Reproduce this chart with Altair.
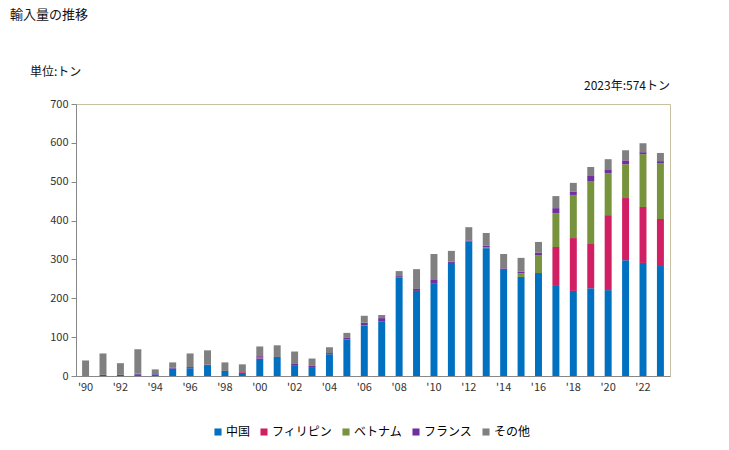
import altair as alt
import pandas as pd

years = list(range(1990, 2024))
china = [0, 0, 0, 3, 4, 19, 20, 26, 13, 8, 45, 49, 28, 23, 56, 94, 129, 141, 253, 219, 239, 291, 346, 329, 273, 255, 265, 234, 219, 226, 221, 298, 291, 283]
philippines = [0, 0, 0, 0, 0, 0, 0, 0, 0, 2, 3, 0, 0, 0, 0, 0, 1, 0, 0, 0, 0, 0, 0, 0, 0, 0, 0, 98, 136, 114, 193, 160, 144, 121]
vietnam = [0, 0, 0, 0, 0, 0, 0, 0, 0, 0, 0, 0, 0, 0, 0, 0, 0, 0, 0, 0, 0, 0, 0, 2, 0, 9, 45, 87, 111, 162, 108, 87, 136, 144]
france = [0, 3, 3, 3, 3, 2, 3, 3, 0, 0, 3, 0, 3, 3, 3, 4, 7, 8, 4, 5, 8, 3, 3, 5, 4, 5, 7, 13, 8, 13, 10, 10, 5, 5]
other = [40, 55, 30, 63, 10, 14, 35, 37, 22, 20, 25, 30, 32, 19, 15, 13, 18, 8, 13, 51, 67, 28, 34, 32, 37, 35, 28, 31, 23, 23, 26, 26, 23, 21]

series = ["中国", "フィリピン", "ベトナム", "フランス", "その他"]
colors = ["#0070C0", "#D11F63", "#77933C", "#7030A0", "#808080"]
values = [china, philippines, vietnam, france, other]

rows = []
for si, (name, vals) in enumerate(zip(series, values)):
    for y, v in zip(years, vals):
        rows.append({"year": y, "series": name, "value": v, "idx": si})
df = pd.DataFrame(rows)

FONT = "Noto Sans CJK JP"

bars = alt.Chart(df).mark_bar().encode(
    x=alt.X("year:O", title=None,
            scale=alt.Scale(paddingInner=0.6, paddingOuter=0.35),
            axis=alt.Axis(labelExpr="datum.value % 2 == 0 ? \"'\" + slice(toString(datum.value), 2) : ''",
                          labelAngle=0, ticks=False, domainColor="#888888",
                          labelFontSize=11, labelColor="#333333", labelPadding=5)),
    y=alt.Y("value:Q", title=None, stack="zero",
            scale=alt.Scale(domain=[0, 700], nice=False),
            axis=alt.Axis(values=[0, 100, 200, 300, 400, 500, 600, 700], grid=False,
                          domainColor="#888888", tickColor="#888888", tickSize=5,
                          labelFontSize=11, labelColor="#333333", labelPadding=3)),
    color=alt.Color("series:N", sort=series,
                    scale=alt.Scale(domain=series, range=colors),
                    legend=alt.Legend(title=None, orient="none", direction="horizontal",
                                      legendX=136, legendY=322, symbolType="square",
                                      symbolSize=50, symbolStrokeWidth=0, labelFontSize=12,
                                      labelFont=FONT, columnPadding=7, labelOffset=2)),
    order=alt.Order("idx:Q", sort="ascending"),
)

def label(text, x, y, align="left", size=12, baseline="middle"):
    return alt.Chart(pd.DataFrame({"t": [text]})).mark_text(
        align=align, baseline=baseline, fontSize=size, font=FONT, color="#111111"
    ).encode(x=alt.value(x), y=alt.value(y), text="t:N")

chart = alt.layer(
    bars,
    label("輸入量の推移", -66, -95, size=13, baseline="top"),
    label("単位:トン", -46, -32),
    label("2023年:574トン", 594, -18, align="right"),
).properties(
    width=594, height=272,
    autosize=alt.AutoSizeParams(type="none"),
    padding={"left": 68, "top": 96, "right": 51, "bottom": 66},
).configure_view(stroke="#C8C0A0").configure_axis(labelFont=FONT)

chart.save("out.html", embed_options={"renderer": "svg", "actions": False})
